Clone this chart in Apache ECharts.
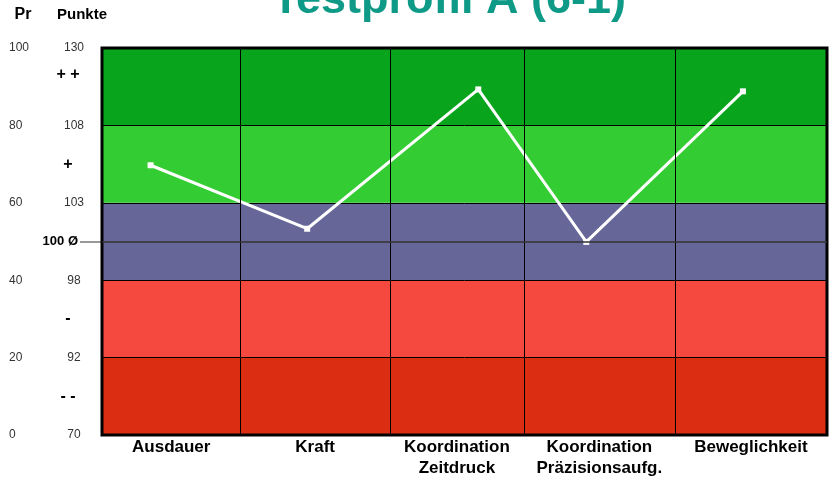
<!DOCTYPE html>
<html>
<head>
<meta charset="utf-8">
<script src="https://cdn.jsdelivr.net/npm/echarts@6/dist/echarts.min.js"></script>
<style>
html, body { margin: 0; padding: 0; background: #fff; }
#testprofil { width: 829px; height: 479px; }
</style>
</head>
<body>
<div id="testprofil"></div>
<script>
// Kategorien und Spaltengrenzen (x-Achse 0..100)
const categories = ['Ausdauer', 'Kraft', 'Koordination\nZeitdruck', 'Koordination\nPräzisionsaufg.', 'Beweglichkeit']
const columnEdges = [0, 19.1, 39.7, 58.2, 79.0, 100]
// Messwerte (Prozentrang) und ihre Lage in der Spalte
const pointX = [6.7, 28.3, 51.9, 66.8, 88.4]
const prValues = [69.7, 53.3, 89.3, 49.9, 88.8]
// Achsenbeschriftungen
const prTicks = [0, 20, 40, 60, 80, 100]
const punkteTicks = [70, 92, 98, 103, 108, 130]
const ratingPos = [10, 30, 70, 93]
const ratingMarks = ['- -', '-', '+', '+ +']
const averagePr = 50
const averageLabel = '100 Ø'
const titleText = 'Testprofil A (6-1)'

const bandColors = ['#DA2D12', '#F5483E', '#666699', '#33CC33', '#08A51C']
const columnCenters = categories.map((c, i) => (columnEdges[i] + columnEdges[i + 1]) / 2)

const fontFamily = '"Liberation Sans", Arial, sans-serif'

let chart = echarts.init(document.getElementById('testprofil'), null, { renderer: 'canvas' })

let chartOptions = {
    animation: false,
    backgroundColor: '#fff',
    textStyle: { fontFamily: fontFamily },
    grid: {
        left: 102,
        right: 2,
        top: 48,
        bottom: 44,
        show: true,
        z: 5,
        borderColor: '#000',
        borderWidth: 3,
        backgroundColor: 'transparent',
    },
    graphic: [
        {
            type: 'text', x: 449, y: 23, z: 10,
            style: { text: titleText, fill: '#0E9A86', font: 'bold 45px ' + fontFamily, align: 'center', verticalAlign: 'bottom' }
        },
        {
            type: 'text', x: 23, y: 15,
            style: { text: 'Pr', fill: '#000', font: 'bold 16px ' + fontFamily, align: 'center', verticalAlign: 'middle' }
        },
        {
            type: 'text', x: 82, y: 15,
            style: { text: 'Punkte', fill: '#000', font: 'bold 15px ' + fontFamily, align: 'center', verticalAlign: 'middle' }
        },
    ],
    xAxis: {
        type: 'value',
        min: 0,
        max: 100,
        axisLine: { show: false },
        axisTick: { show: false },
        splitLine: { show: false },
        axisLabel: {
            customValues: columnCenters,
            formatter: (v) => {
                const i = columnCenters.findIndex((c) => Math.abs(c - v) < 0.01)
                return i >= 0 ? categories[i] : ''
            },
            color: '#000',
            fontWeight: 'bold',
            fontSize: 17,
            lineHeight: 21,
            margin: 2,
        },
    },
    yAxis: [
        {
            // Prozentrang
            type: 'value',
            min: 0,
            max: 100,
            interval: 20,
            position: 'left',
            axisLine: { show: false },
            axisTick: { show: false },
            axisLabel: { color: '#333', fontSize: 12, align: 'left', margin: 93 },
            splitLine: { show: true, lineStyle: { color: '#000', width: 1 } },
            splitArea: { show: true, areaStyle: { color: bandColors, opacity: 1 } },
        },
        {
            // Punkte
            type: 'value',
            min: 0,
            max: 100,
            position: 'left',
            axisLine: { show: false },
            axisTick: { show: false },
            splitLine: { show: false },
            axisLabel: {
                customValues: prTicks,
                formatter: (v) => String(punkteTicks[prTicks.indexOf(v)]),
                color: '#333',
                fontSize: 12,
                align: 'center',
                margin: 28,
            },
        },
        {
            // Bewertung + + / - -
            type: 'value',
            min: 0,
            max: 100,
            position: 'left',
            axisLine: { show: false },
            axisTick: { show: false },
            splitLine: { show: false },
            axisLabel: {
                customValues: ratingPos,
                formatter: (v) => ratingMarks[ratingPos.indexOf(v)],
                color: '#000',
                fontSize: 16,
                fontWeight: 'bold',
                align: 'center',
                margin: 34,
            },
        },
        {
            // Durchschnitt
            type: 'value',
            min: 0,
            max: 100,
            position: 'left',
            axisLine: { show: false },
            axisTick: { show: true, customValues: [averagePr], length: 22, lineStyle: { color: '#777', width: 1.5 } },
            splitLine: { show: false },
            axisLabel: {
                customValues: [averagePr],
                formatter: () => averageLabel,
                color: '#000',
                fontSize: 13,
                fontWeight: 'bold',
                margin: 24,
            },
        },
    ],
    series: [
        {
            // Hilfslinien: Spaltengrenzen und Durchschnitt
            type: 'line',
            data: [],
            z: 1,
            silent: true,
            markLine: {
                silent: true,
                symbol: ['none', 'none'],
                label: { show: false },
                animation: false,
                data: columnEdges.slice(1, -1).map((x) => ({ xAxis: x, lineStyle: { color: '#000', width: 1, type: 'solid' } }))
                    .concat([{ yAxis: averagePr, lineStyle: { color: '#333', width: 1.5, type: 'solid' } }]),
            },
        },
        {
            type: 'line',
            z: 3,
            data: pointX.map((x, i) => [x, prValues[i]]),
            color: '#fff',
            lineStyle: { color: '#fff', width: 3 },
            symbol: 'rect',
            symbolSize: 6,
            itemStyle: { color: '#fff' },
            showSymbol: true,
        },
    ],
}

chart.setOption(chartOptions)
</script>
</body>
</html>
